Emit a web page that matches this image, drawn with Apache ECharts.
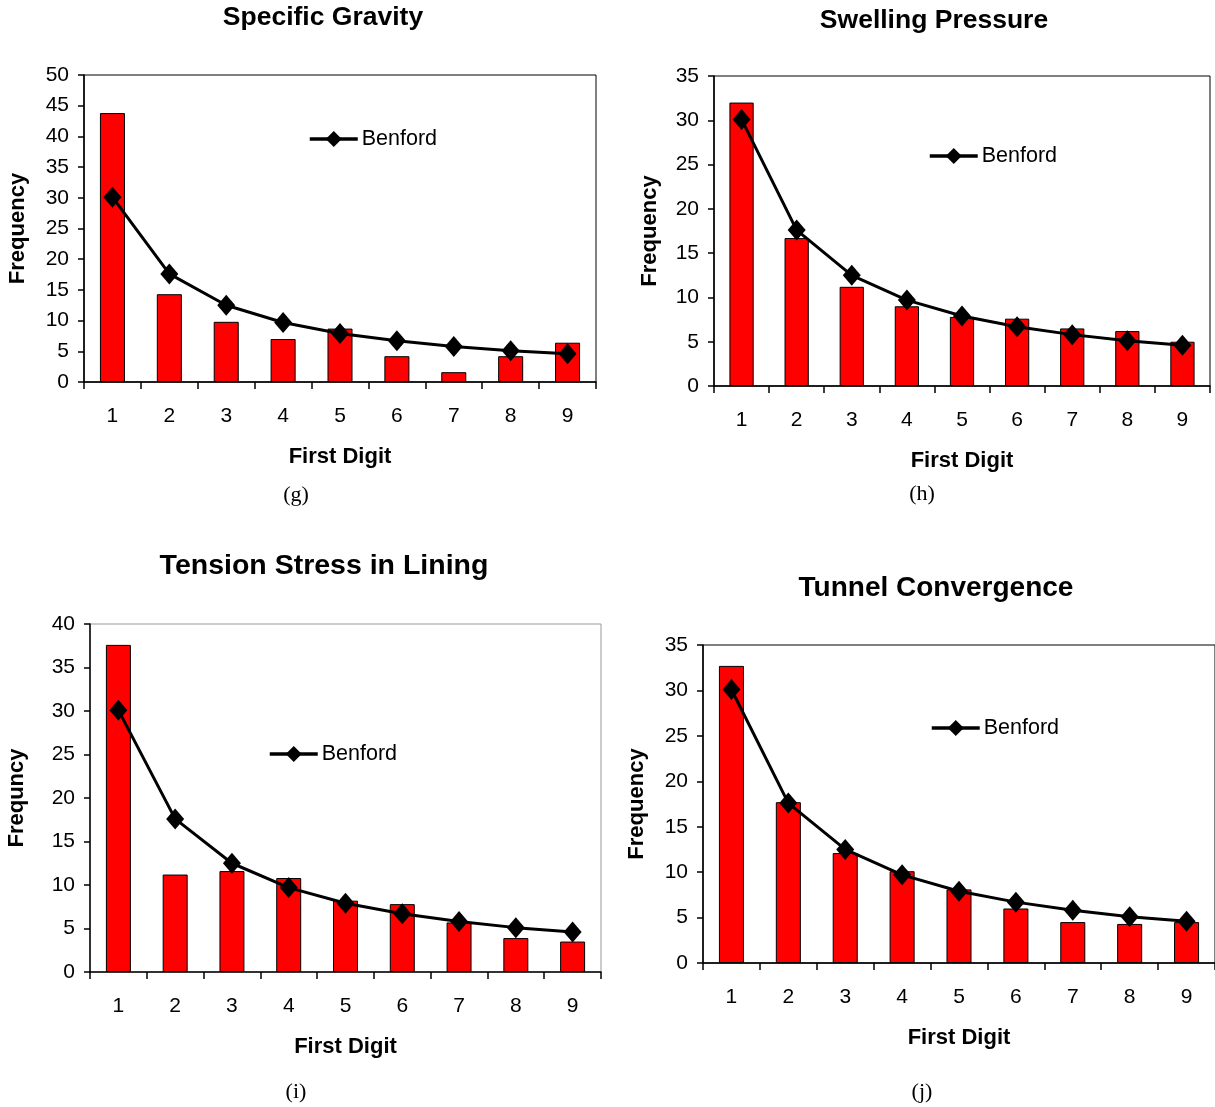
<!DOCTYPE html>
<html>
<head>
<meta charset="utf-8">
<script src="https://cdn.jsdelivr.net/npm/echarts@6/dist/echarts.min.js"></script>
<style>
html,body{margin:0;padding:0;background:#fff;}
#main{width:1215px;height:1107px;}
</style>
</head>
<body>
<div id="main"></div>
<script>
var digits = ['1','2','3','4','5','6','7','8','9'];
var benford = [30.1, 17.6, 12.5, 9.7, 7.9, 6.7, 5.8, 5.1, 4.6];
var specificGravity = [43.8, 14.3, 9.8, 7.0, 8.7, 4.2, 1.6, 4.2, 6.4];
var swellingPressure = [32.0, 16.7, 11.2, 9.0, 7.8, 7.6, 6.5, 6.2, 5.0];
var tensionStress = [37.6, 11.2, 11.6, 10.8, 8.2, 7.8, 5.7, 3.9, 3.5];
var tunnelConvergence = [32.7, 17.7, 12.1, 10.1, 8.1, 6.0, 4.5, 4.3, 4.5];

var titles = ['Specific Gravity', 'Swelling Pressure', 'Tension Stress in Lining', 'Tunnel Convergence'];
var yNames = ['Frequency', 'Frequency', 'Frequncy', 'Frequency'];
var subLabels = ['(g)', '(h)', '(i)', '(j)'];
var yMax = [50, 35, 40, 35];
var observed = [specificGravity, swellingPressure, tensionStress, tunnelConvergence];

// layout (pixels)
var grids = [
  {left: 84, top: 75, width: 512, height: 307, borderColor: '#000'},
  {left: 714, top: 76, width: 496, height: 310, borderColor: '#000'},
  {left: 90, top: 624, width: 511, height: 348, borderColor: '#999'},
  {left: 703, top: 645, width: 515, height: 318, borderColor: '#000'}
];
var titlePos = [[323, 18, 26.5], [934, 21, 26.5], [324, 566, 28.5], [936, 588, 28]];
var legendPos = [[308, 128], [928, 145], [268, 743], [930, 717]];
var subPos = [[296, 495], [922, 494], [296, 1092], [922, 1092]];
var yNameGap = [55, 53, 62, 55];

var FONT = '"Liberation Sans", Arial, sans-serif';

var option = {
  backgroundColor: '#fff',
  animation: false,
  grid: [], xAxis: [], yAxis: [], series: [], legend: [], graphic: []
};

for (var k = 0; k < 4; k++) {
  var g = grids[k];
  option.grid.push({left: g.left, top: g.top, width: g.width, height: g.height,
    show: true, borderColor: g.borderColor, borderWidth: 1, backgroundColor: 'transparent'});
  option.xAxis.push({
    type: 'category', gridIndex: k, data: digits,
    name: 'First Digit', nameLocation: 'middle', nameGap: 64,
    nameTextStyle: {fontFamily: FONT, fontSize: 22, fontWeight: 'bold', color: '#000'},
    axisLine: {lineStyle: {color: '#000', width: 1.5}},
    axisTick: {show: true, length: 7, lineStyle: {color: '#000', width: 1.5}},
    axisLabel: {margin: 24, fontFamily: FONT, fontSize: 21, color: '#000'},
    splitLine: {show: false}
  });
  option.yAxis.push({
    type: 'value', gridIndex: k, min: 0, max: yMax[k], interval: 5,
    name: yNames[k], nameLocation: 'middle', nameGap: yNameGap[k], nameRotate: 90,
    nameTextStyle: {fontFamily: FONT, fontSize: 22, fontWeight: 'bold', color: '#000'},
    axisLine: {show: true, lineStyle: {color: '#000', width: 1.5}},
    axisTick: {show: true, length: 6, lineStyle: {color: '#000', width: 1.5}},
    axisLabel: {margin: 15, fontFamily: FONT, fontSize: 21, color: '#000'},
    splitLine: {show: false}
  });
  option.series.push({
    type: 'bar', name: 'Observed' + k, xAxisIndex: k, yAxisIndex: k,
    data: observed[k], barWidth: '44%',
    itemStyle: {color: '#ff0000', borderColor: '#000', borderWidth: 1},
    z: 2
  });
  option.series.push({
    type: 'line', name: 'Benford', xAxisIndex: k, yAxisIndex: k,
    data: benford, symbol: 'diamond', symbolSize: [18, 21],
    lineStyle: {color: '#000', width: 3},
    itemStyle: {color: '#000'},
    z: 3
  });
  option.legend.push({
    data: [{name: 'Benford'}],
    left: legendPos[k][0], top: legendPos[k][1], padding: 0,
    itemWidth: 48, itemHeight: 20, itemGap: 4,
    lineStyle: {width: 3.5},
    textStyle: {fontFamily: FONT, fontSize: 21.5, color: '#000', padding: [0, 0, 0, -1]},
    selectedMode: false
  });
  option.graphic.push({
    type: 'text', x: titlePos[k][0], y: titlePos[k][1],
    style: {text: titles[k], font: 'bold ' + titlePos[k][2] + 'px ' + FONT, fill: '#000',
      align: 'center', verticalAlign: 'middle'}
  });
  option.graphic.push({
    type: 'text', x: subPos[k][0], y: subPos[k][1],
    style: {text: subLabels[k], font: '22px "Liberation Serif", "Times New Roman", serif', fill: '#000',
      align: 'center', verticalAlign: 'middle'}
  });
}

var chart = echarts.init(document.getElementById('main'), null, {renderer: 'canvas'});
chart.setOption(option);
</script>
</body>
</html>
